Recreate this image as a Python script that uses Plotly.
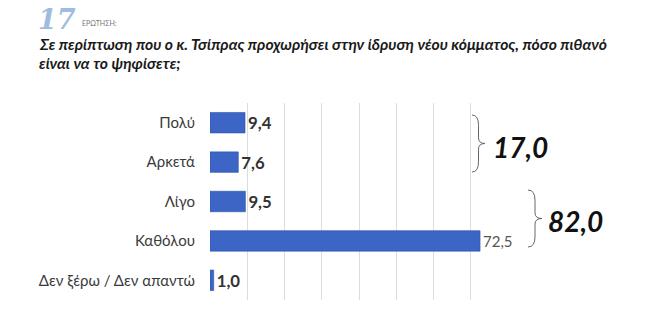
import plotly.graph_objects as go

categories = ["Πολύ", "Αρκετά", "Λίγο", "Καθόλου", "Δεν ξέρω / Δεν απαντώ"]
values = [9.4, 7.6, 9.5, 72.5, 1.0]
group_labels = ["17,0", "82,0"]
title_line1 = "Σε περίπτωση που ο κ. Τσίπρας προχωρήσει στην ίδρυση νέου κόμματος, πόσο πιθανό"
title_line2 = "είναι να το ψηφίσετε;"
question_no = "17"
question_word = "ΕΡΩΤΗΣΗ:"

W, H = 650, 326
L, R, T, B = 210, 142, 103, 26
PW, PH = W - L - R, H - T - B


def px(x):
    return (x - L) / PW


def py(y):
    return 1 - (y - T) / PH


def brace(x0, y0, y1, w):
    ym = (y0 + y1) / 2
    h = y1 - y0
    xm = x0 + w / 2
    pts = [
        f"M {px(x0)},{py(y0)}",
        f"Q {px(xm)},{py(y0)} {px(xm)},{py(y0 + h * 0.18)}",
        f"L {px(xm)},{py(ym - h * 0.1)}",
        f"Q {px(xm)},{py(ym)} {px(x0 + w)},{py(ym)}",
        f"Q {px(xm)},{py(ym)} {px(xm)},{py(ym + h * 0.1)}",
        f"L {px(xm)},{py(y1 - h * 0.18)}",
        f"Q {px(xm)},{py(y1)} {px(x0)},{py(y1)}",
    ]
    return " ".join(pts)


sizes = [18, 18, 18, 15, 18]
colors = ["#333333", "#333333", "#333333", "#555555", "#333333"]
texts = [f"<b>{v:.1f}</b>".replace(".", ",") if i != 3 else f"{v:.1f}".replace(".", ",")
         for i, v in enumerate(values)]

fig = go.Figure(go.Bar(
    x=values, y=categories, orientation="h",
    marker=dict(color="#3d65c6", line=dict(color="#2c52ad", width=0.6)),
    width=0.52,
    text=texts, textposition="outside", textangle=0,
    textfont=dict(size=sizes, color=colors, family="Lato"),
    cliponaxis=False,
))

fig.update_layout(
    width=W, height=H,
    margin=dict(l=L, r=R, t=T, b=B),
    plot_bgcolor="white", paper_bgcolor="white",
    showlegend=False,
    separators=",.",
    font=dict(family="Lato", color="#404040"),
    xaxis=dict(range=[0, 80], dtick=10, showticklabels=False, showgrid=True,
               gridcolor="#dcdcdc", gridwidth=1, zeroline=False, showline=False),
    yaxis=dict(categoryorder="array", categoryarray=categories, autorange="reversed",
               showgrid=False, showline=False, ticks="", ticklabelstandoff=14,
               tickfont=dict(size=15, color="#3a3a3a", family="Lato")),
)

# header
fig.add_annotation(text=question_no, x=px(36), y=py(20), xref="paper", yref="paper",
                   xanchor="left", yanchor="middle", showarrow=False,
                   font=dict(family="DejaVu Serif", size=27, color="#9dbce0",
                             weight="bold", style="italic"))
fig.add_annotation(text=question_word, x=px(80), y=py(23), xref="paper", yref="paper",
                   xanchor="left", yanchor="middle", showarrow=False,
                   font=dict(family="Lato", size=7, color="#777777"))
fig.add_annotation(text=f"<b><i>{title_line1}</i></b>", x=px(37), y=py(44), xref="paper", yref="paper",
                   xanchor="left", yanchor="middle", showarrow=False,
                   font=dict(family="Lato", size=15.7, color="#1a1a1a"))
fig.add_annotation(text=f"<b><i>{title_line2}</i></b>", x=px(37), y=py(63), xref="paper", yref="paper",
                   xanchor="left", yanchor="middle", showarrow=False,
                   font=dict(family="Lato", size=15.7, color="#1a1a1a"))

# braces and group totals
fig.add_shape(type="path", path=brace(472, 115, 172, 13), xref="paper", yref="paper",
              line=dict(color="#666666", width=1))
fig.add_shape(type="path", path=brace(528, 190, 247, 14), xref="paper", yref="paper",
              line=dict(color="#666666", width=1))
fig.add_annotation(text=f"<b><i>{group_labels[0]}</i></b>", x=px(491), y=py(147), xref="paper", yref="paper",
                   xanchor="left", yanchor="middle", showarrow=False,
                   font=dict(family="Lato", size=28, color="#111111"))
fig.add_annotation(text=f"<b><i>{group_labels[1]}</i></b>", x=px(546), y=py(221), xref="paper", yref="paper",
                   xanchor="left", yanchor="middle", showarrow=False,
                   font=dict(family="Lato", size=28, color="#111111"))

fig.write_html("out.html")
